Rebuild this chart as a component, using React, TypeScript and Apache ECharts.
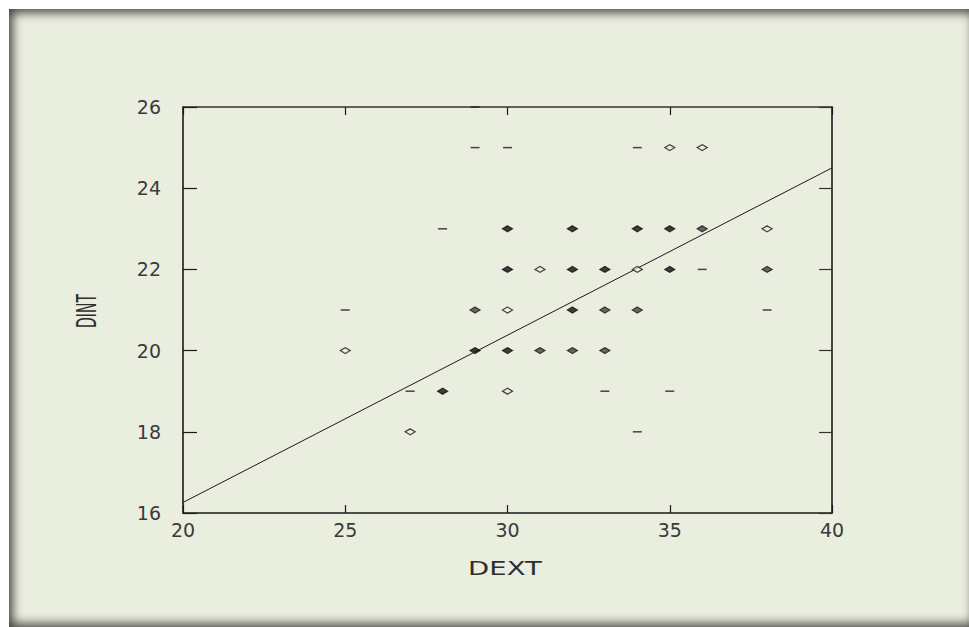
import React, { useEffect, useRef } from "react";
import * as echarts from "echarts";

// Axis ranges / ticks
const xMin = 20;
const xMax = 40;
const xStep = 5;
const yMin = 16;
const yMax = 26;
const yStep = 2;

// Observations drawn as short dashes
const dashX = [29, 29, 30, 34, 28, 36, 25, 38, 27, 33, 35, 34];
const dashY = [26, 25, 25, 25, 23, 22, 21, 21, 19, 19, 19, 18];
// Single observations (hollow diamonds)
const hollowX = [35, 36, 38, 31, 34, 30, 25, 30, 27];
const hollowY = [25, 25, 23, 22, 22, 21, 20, 19, 18];
// Heavily overlapping observations (dark diamonds)
const filledX = [30, 32, 34, 35, 30, 32, 33, 35, 32, 29, 30, 28];
const filledY = [23, 23, 23, 23, 22, 22, 22, 22, 21, 20, 20, 19];
// Partly overlapping observations (grey diamonds)
const mixedX = [36, 38, 29, 33, 34, 31, 32, 33];
const mixedY = [23, 22, 21, 21, 21, 20, 20, 20];
// Fitted regression line end points
const fitX = [20, 40];
const fitY = [16.26, 24.5];

const xName = "DEXT";
const yName = "DINT";

const BG = "#EAEEDF";
const INK = "#1a1a1a";
const TXT = "#2e2e2e";

const zip = (xs: number[], ys: number[]) => xs.map((x, i) => [x, ys[i]]);

export default function App() {
  const ref = useRef<HTMLDivElement>(null);

  useEffect(() => {
    document.body.style.margin = "0";
    if (!ref.current) return;
    const chart = echarts.init(ref.current, undefined, { renderer: "svg" });

    const axisLine = { show: true, onZero: false, lineStyle: { color: INK, width: 1.6 } };
    const labelStyle = {
      fontSize: 19,
      fontFamily: "DejaVu Sans",
      color: "#3a3a3a",
    };

    chart.setOption({
      animation: false,
      backgroundColor: "transparent",
      grid: { left: 183, top: 107, width: 649, height: 406, containLabel: false },
      xAxis: [
        {
          type: "value",
          position: "bottom",
          min: xMin,
          max: xMax,
          interval: xStep,
          axisLine,
          axisTick: { show: true, inside: true, length: 8, lineStyle: { color: INK, width: 1.2 } },
          axisLabel: { ...labelStyle, margin: 7 },
          splitLine: { show: false },
        },
        {
          type: "value",
          position: "top",
          min: xMin,
          max: xMax,
          interval: xStep,
          axisLine: { ...axisLine, lineStyle: { color: "#333", width: 1.6 } },
          axisTick: { show: true, inside: true, length: 8, lineStyle: { color: INK, width: 1.2 } },
          axisLabel: { show: false },
          splitLine: { show: false },
        },
      ],
      yAxis: [
        {
          type: "value",
          position: "left",
          min: yMin,
          max: yMax,
          interval: yStep,
          axisLine,
          axisTick: { show: true, inside: true, length: 14, lineStyle: { color: INK, width: 1.2 } },
          axisLabel: { ...labelStyle, margin: 22 },
          splitLine: { show: false },
        },
        {
          type: "value",
          position: "right",
          min: yMin,
          max: yMax,
          interval: yStep,
          axisLine,
          axisTick: { show: true, inside: true, length: 13, lineStyle: { color: "#333", width: 1.2 } },
          axisLabel: { show: false },
          splitLine: { show: false },
        },
      ],
      graphic: [
        {
          type: "text",
          x: 505,
          y: 569,
          scaleX: 1.45,
          style: {
            text: xName,
            fontSize: 19,
            fontFamily: "DejaVu Sans",
            fill: TXT,
            align: "center",
            verticalAlign: "middle",
          },
        },
        {
          type: "text",
          x: 87,
          y: 311,
          rotation: Math.PI / 2,
          scaleY: 1.9,
          style: {
            text: yName,
            fontSize: 14,
            fontFamily: "DejaVu Sans",
            fill: TXT,
            align: "center",
            verticalAlign: "middle",
          },
        },
      ],
      series: [
        {
          type: "line",
          data: zip(fitX, fitY),
          showSymbol: false,
          lineStyle: { color: INK, width: 1 },
          z: 1,
        },
        {
          type: "scatter",
          data: zip(dashX, dashY),
          symbol: "rect",
          symbolSize: [9, 1.5],
          itemStyle: { color: INK },
          clip: false,
          z: 3,
        },
        {
          type: "scatter",
          data: zip(hollowX, hollowY),
          symbol: "diamond",
          symbolSize: [10, 6],
          itemStyle: { color: BG, borderColor: INK, borderWidth: 1.3 },
          clip: false,
          z: 3,
        },
        {
          type: "scatter",
          data: zip(mixedX, mixedY),
          symbol: "diamond",
          symbolSize: [10, 6],
          itemStyle: { color: "#444", borderColor: INK, borderWidth: 1.3 },
          clip: false,
          z: 3,
        },
        {
          type: "scatter",
          data: zip(filledX, filledY),
          symbol: "diamond",
          symbolSize: [10, 6],
          itemStyle: { color: "#111", borderColor: "#111", borderWidth: 1.3 },
          clip: false,
          z: 3,
        },
      ],
    });

    return () => chart.dispose();
  }, []);

  return (
    <div style={{ position: "fixed", left: 0, top: 0, width: 969, height: 627, background: "#fff", overflow: "hidden" }}>
      <div
        style={{
          position: "absolute",
          left: 9,
          top: 9,
          width: 962,
          height: 618,
          background: BG,
          boxShadow:
            "inset 10px 0 9px -5px rgba(60,60,55,0.75), inset 0 10px 9px -5px rgba(60,60,55,0.75), inset 0 -10px 9px -5px rgba(60,60,55,0.7), inset -8px 0 8px -6px rgba(60,60,55,0.3)",
        }}
      />
      <div ref={ref} style={{ position: "absolute", left: 0, top: 0, width: 969, height: 627 }} />
    </div>
  );
}
